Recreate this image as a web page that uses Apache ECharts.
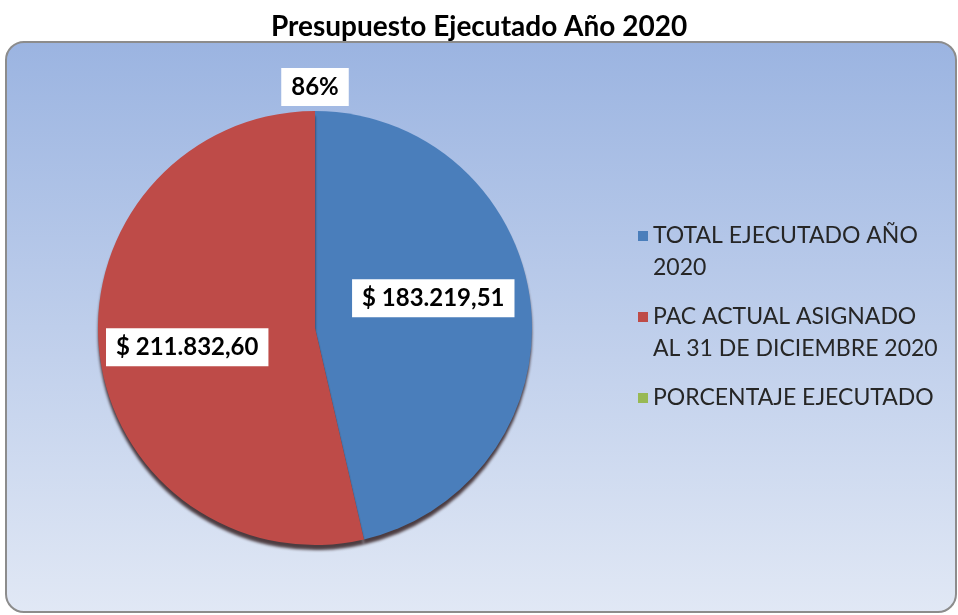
<!DOCTYPE html>
<html>
<head>
<meta charset="utf-8">
<script src="https://cdn.jsdelivr.net/npm/echarts@6/dist/echarts.min.js"></script>
<style>html,body{margin:0;padding:0;background:#fff;}#c{width:958px;height:615px;}</style>
</head>
<body>
<div id="c"></div>
<script>
const titleText = 'Presupuesto Ejecutado Año 2020';
const categories = ['TOTAL EJECUTADO AÑO 2020', 'PAC ACTUAL ASIGNADO AL 31 DE DICIEMBRE 2020', 'PORCENTAJE EJECUTADO'];
const legendLabels = ['\u00a0\nTOTAL EJECUTADO AÑO\n2020', '\u00a0\nPAC ACTUAL ASIGNADO\nAL 31 DE DICIEMBRE 2020', '\u00a0\nPORCENTAJE EJECUTADO\n\u00a0'];
const values = [183219.51, 211832.60, 0.86];
const valueLabels = ['$ 183.219,51', '$ 211.832,60', '86%'];
const colors = ['#4a7ebb', '#be4b48', '#98b954'];

const chart = echarts.init(document.getElementById('c'));
const font = 'Lato, "Open Sans", sans-serif';

const option = {
  animation: false,
  title: {
    text: titleText, left: 'center', top: 8,
    textStyle: { fontFamily: font, fontWeight: 'bold', fontSize: 28, color: '#000' }
  },
  graphic: [{
    type: 'rect', z: -10, silent: true,
    shape: { x: 6, y: 42, width: 950, height: 570, r: 18 },
    style: {
      fill: new echarts.graphic.LinearGradient(0, 0, 0, 1, [
        { offset: 0, color: '#9bb4e1' },
        { offset: 1, color: '#e1e8f5' }
      ]),
      stroke: '#8c8c8c', lineWidth: 2
    }
  }],
  legend: {
    orient: 'vertical', left: 633, top: 183, itemGap: -15,
    icon: 'rect', itemWidth: 10, itemHeight: 10,
    data: categories,
    formatter: (name) => legendLabels[categories.indexOf(name)],
    textStyle: { fontFamily: font, fontSize: 23, color: '#262626', lineHeight: 32 }
  },
  series: [{
    type: 'pie',
    center: [315, 328], radius: 217,
    startAngle: 90, clockwise: true,
    label: {
      position: 'inside',
      backgroundColor: '#fff',
      padding: [8, 10, 6, 10],
      fontFamily: font, fontWeight: 'bold', fontSize: 24, color: '#000',
      formatter: (p) => valueLabels[p.dataIndex]
    },
    labelLine: { show: false },
    itemStyle: { shadowColor: 'rgba(30,5,5,0.75)', shadowBlur: 3, shadowOffsetY: 5 },
    emphasis: { disabled: true },
    labelLayout: function (p) {
      if (p.dataIndex === 0) return { dx: 7.5, dy: -17 };
      if (p.dataIndex === 1) return { dx: -17, dy: 6.5 };
      return { x: 315, align: 'center' };
    },
    data: categories.map((n, i) => {
      const d = { name: n, value: values[i], itemStyle: { color: colors[i] } };
      if (i === 2) {
        d.label = { position: 'outside', alignTo: 'none' };
        d.labelLine = { show: false, length: 24, length2: 0 };
      }
      return d;
    })
  }]
};
chart.setOption(option);
</script>
</body>
</html>
